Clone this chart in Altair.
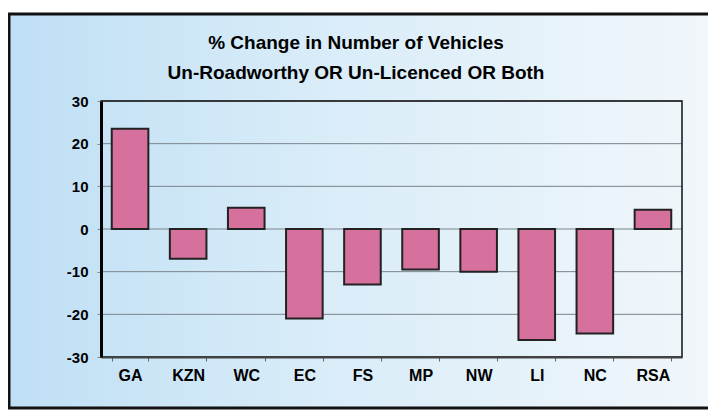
import altair as alt
import pandas as pd

regions = ["GA", "KZN", "WC", "EC", "FS", "MP", "NW", "LI", "NC", "RSA"]
pct_change = [23.5, -7.0, 5.0, -21.0, -13.0, -9.5, -10.0, -26.0, -24.5, 4.5]
y_ticks = [-30, -20, -10, 0, 10, 20, 30]
title_lines = ["% Change in Number of Vehicles", "Un-Roadworthy OR Un-Licenced OR Both"]

df = pd.DataFrame({"region": regions, "value": pct_change})
grid_df = pd.DataFrame({"value": y_ticks})

W, H = 581, 256
FONT = "Liberation Sans"

one = pd.DataFrame({"k": [0]})

frame = alt.Chart(one).mark_rect(
    fill=alt.Gradient(
        gradient="linear",
        stops=[alt.GradientStop(color="#BFDFF5", offset=0),
               alt.GradientStop(color="#D8ECF8", offset=0.4),
               alt.GradientStop(color="#F4F8FB", offset=1)],
        x1=0, x2=1, y1=0, y2=0),
    stroke="#111111", strokeWidth=3,
).encode(x=alt.value(-92), x2=alt.value(660), y=alt.value(-87), y2=alt.value(307))

yscale = alt.Scale(domain=[-30, 30], nice=False, zero=False)
yaxis = alt.Axis(title=None, values=y_ticks, labelExpr="toString(datum.value)",
                 labelFont=FONT, labelFontWeight="bold",
                 labelFontSize=15, labelColor="#000000", labelPadding=9,
                 domainColor="#000000", domainWidth=3, tickColor="#888888",
                 tickSize=4, grid=False, zindex=1)

grid = alt.Chart(grid_df).mark_rule(color="#7A848C", strokeWidth=1).encode(
    y=alt.Y("value:Q", scale=yscale, axis=yaxis),
    x=alt.value(0), x2=alt.value(W))

plot_border = alt.Chart(one).mark_rect(
    fill="transparent", stroke="#111111", strokeWidth=1.5
).encode(x=alt.value(0), x2=alt.value(W), y=alt.value(0), y2=alt.value(H))

xenc = alt.X("region:N", sort=regions,
             scale=alt.Scale(paddingInner=0.37, paddingOuter=0.185),
             axis=alt.Axis(title=None, labelAngle=0, labelFont=FONT, labelFontWeight="bold",
                           labelFontSize=16, labelColor="#000000", labelPadding=6,
                           domainColor="#444444", domainWidth=2, tickBand="extent",
                           tickColor="#666666", tickSize=4, grid=False, zindex=1))
yenc = alt.Y("value:Q", scale=yscale, axis=yaxis)

bars = alt.Chart(df).mark_bar(
    fill="#D5719C", stroke="#222222", strokeWidth=2
).encode(x=xenc, y=yenc, y2=alt.datum(0))

title1 = alt.Chart(pd.DataFrame({"t": [title_lines[0]]})).mark_text(
    font=FONT, fontSize=19, fontWeight="bold", color="#000000", align="center", baseline="middle"
).encode(text="t:N", x=alt.value(255), y=alt.value(-58))

title2 = alt.Chart(pd.DataFrame({"t": [title_lines[1]]})).mark_text(
    font=FONT, fontSize=19, fontWeight="bold", color="#000000", align="center", baseline="middle"
).encode(text="t:N", x=alt.value(255), y=alt.value(-28))

chart = alt.layer(frame, grid, plot_border, bars, title1, title2).properties(
    width=W, height=H,
    autosize=alt.AutoSizeParams(type="none"),
    padding={"left": 93, "top": 93, "right": 26, "bottom": 54},
    background="#FFFFFF",
).configure_view(stroke=None, fill=None)

chart.save("out.html", embed_options={"renderer": "svg", "actions": False})
